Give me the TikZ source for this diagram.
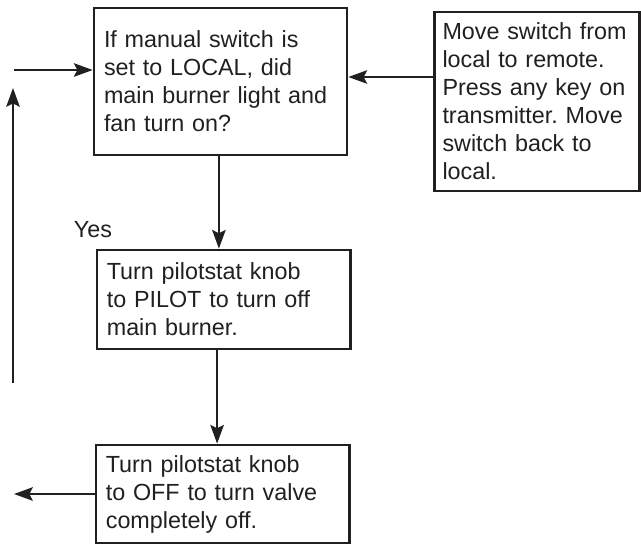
\documentclass[tikz,border=0pt]{standalone}
\usepackage{fontspec}
\setmainfont{Liberation Sans}
\usetikzlibrary{arrows.meta}
\definecolor{ink}{RGB}{35,31,32}
\frenchspacing
\tikzset{
  stepbox/.style={draw=ink, line width=2pt, text=ink, align=left, inner xsep=7.5pt,
    font=\fontsize{17.5}{21}\selectfont},
  arr/.style={draw=ink, line width=2pt, -{Stealth[length=14pt,width=10pt,inset=2.5pt]}}
}
\begin{document}
\begin{tikzpicture}[x=0.75pt,y=-0.75pt]
  \useasboundingbox (0,0) rectangle (641,544);
  \node[stepbox, text width=174.75pt, minimum height=110.25pt] (ask) at (220.5,81.5)
    {If manual switch is\\set to LOCAL, did\\main burner light and\\fan turn on?};
  \node[stepbox, inner xsep=6pt, text width=141.75pt, minimum height=134.25pt] (reset) at (537,101.5)
    {Move switch from\\local to remote.\\Press any key on\\transmitter. Move\\switch back to\\local.};
  \node[stepbox, text width=175pt, minimum height=74.25pt] (pilot) at (223.5,299.5)
    {Turn pilotstat knob\\to PILOT to turn off\\main burner.};
  \node[stepbox, text width=175pt, minimum height=73.5pt] (off) at (222.5,494)
    {Turn pilotstat knob\\to OFF to turn valve\\completely off.};
  \node[text=ink, font=\fontsize{17.5}{21}\selectfont] (yes) at (93,230) {Yes};
  \coordinate (feed) at (0,77);
  \coordinate (loopin) at (14,70);
  \coordinate (loopbot) at (13,383);
  \coordinate (looptop) at (13,88);
  \coordinate (exit) at (14,494);
  \draw[arr] (reset.west |- feed) -- (ask.east |- feed);
  \draw[arr] (loopin) -- (loopin -| ask.west);
  \draw[arr] (loopbot) -- (looptop);
  \draw[arr] ([xshift=-1.2pt]ask.south) -- ([xshift=-1.2pt]ask.south |- pilot.north);
  \draw[arr] ([xshift=-4.8pt]pilot.south) -- ([xshift=-4.8pt]pilot.south |- off.north);
  \draw[arr] (off.west) -- (exit);
\end{tikzpicture}
\end{document}
